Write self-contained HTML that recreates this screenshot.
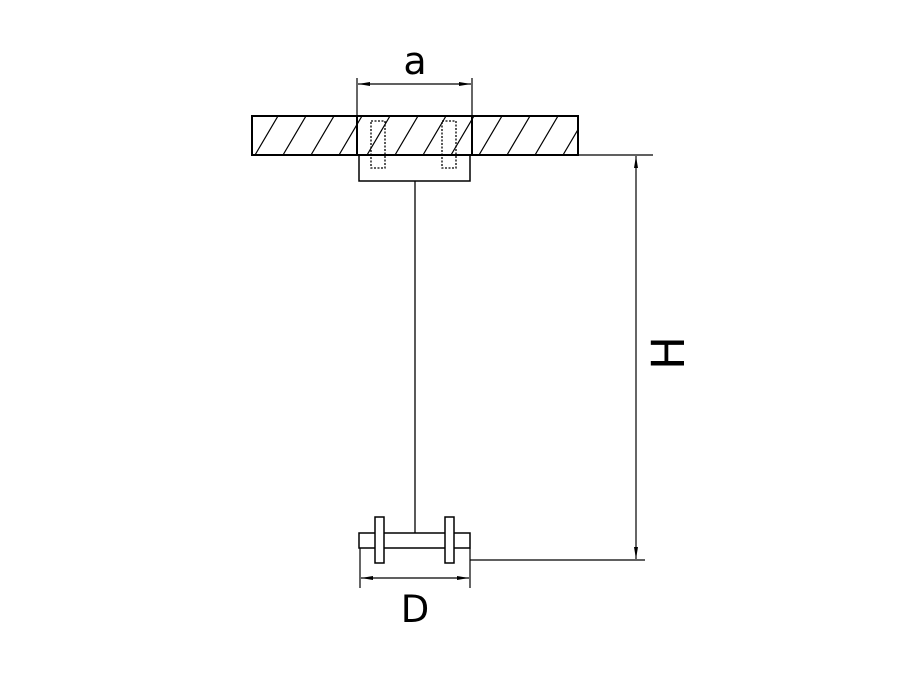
<!DOCTYPE html>
<html><head><style>body{margin:0;background:#fff}</style></head><body>
<svg width="900" height="675" xmlns="http://www.w3.org/2000/svg" font-family="'DejaVu Sans','Liberation Sans',sans-serif">
<defs>
<clipPath id="c"><rect x="252" y="116" width="326" height="39"/></clipPath>
<marker id="ar" markerWidth="12" markerHeight="6" refX="12" refY="3" orient="auto" markerUnits="userSpaceOnUse"><path d="M0,1 L12,3 L0,5z" fill="#000"/></marker>
</defs>
<g stroke="#000" fill="none">
<g clip-path="url(#c)" stroke-width="1.2">
<path d="M255,155 L278,116 M283,155 L306,116 M311,155 L334,116 M339,155 L362,116 M367,155 L390,116 M395,155 L418,116 M423,155 L446,116 M451,155 L474,116 M479,155 L502,116 M507,155 L530,116 M535,155 L558,116 M563,155 L586,116"/>
</g>
<rect x="252" y="116" width="326" height="39" stroke-width="2"/>
<line x1="357" y1="116" x2="357" y2="155" stroke-width="2"/>
<line x1="472" y1="116" x2="472" y2="155" stroke-width="2"/>
<rect x="359" y="155" width="111" height="26" stroke-width="1.5"/>
<rect x="371" y="121" width="14" height="47" stroke-dasharray="2,1.5" stroke-width="1.3"/>
<rect x="442" y="121" width="14" height="47" stroke-dasharray="2,1.5" stroke-width="1.3"/>
<line x1="357" y1="78" x2="357" y2="116" stroke-width="1.2"/>
<line x1="472" y1="78" x2="472" y2="116" stroke-width="1.2"/>
<line x1="415" y1="84" x2="358" y2="84" stroke-width="1.2" marker-end="url(#ar)"/>
<line x1="415" y1="84" x2="471" y2="84" stroke-width="1.2" marker-end="url(#ar)"/>
<line x1="415" y1="181" x2="415" y2="533" stroke-width="1.3"/>
<line x1="578" y1="155" x2="653" y2="155" stroke-width="1.2"/>
<line x1="636" y1="360" x2="636" y2="156" stroke-width="1.2" marker-end="url(#ar)"/>
<line x1="636" y1="360" x2="636" y2="559" stroke-width="1.2" marker-end="url(#ar)"/>
<line x1="470" y1="560" x2="645" y2="560" stroke-width="1.2"/>
<rect x="359" y="533" width="111" height="15" stroke-width="1.5"/>
<rect x="375" y="517" width="9" height="46" fill="#fff" stroke-width="1.5"/>
<rect x="445" y="517" width="9" height="46" fill="#fff" stroke-width="1.5"/>
<line x1="360" y1="548" x2="360" y2="588" stroke-width="1.2"/>
<line x1="470" y1="548" x2="470" y2="588" stroke-width="1.2"/>
<line x1="415" y1="578" x2="361" y2="578" stroke-width="1.2" marker-end="url(#ar)"/>
<line x1="415" y1="578" x2="469" y2="578" stroke-width="1.2" marker-end="url(#ar)"/>
</g>
<text x="415" y="74" font-size="38" text-anchor="middle">a</text>
<text x="415" y="622" font-size="37" text-anchor="middle">D</text>
<text transform="translate(684,353) rotate(-90)" font-size="45" text-anchor="middle">H</text>
</svg>
</body></html>
